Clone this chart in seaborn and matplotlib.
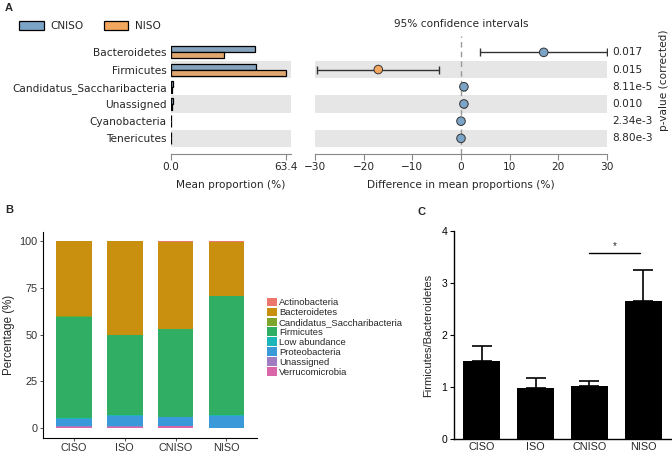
import numpy as np
import pandas as pd
import matplotlib
matplotlib.use("Agg")
import matplotlib.pyplot as plt
from matplotlib.patches import Patch
import seaborn as sns

# ---------------- data ----------------
# Panel A
phyla_a = ["Bacteroidetes", "Firmicutes", "Candidatus_Saccharibacteria",
           "Unassigned", "Cyanobacteria", "Tenericutes"]
cniso_prop = [46.5, 46.8, 0.9, 1.2, 0.2, 0.2]
niso_prop = [29.3, 63.4, 0.3, 0.5, 0.05, 0.05]
diff_mean = [17.0, -17.0, 0.6, 0.6, 0.0, 0.0]
ci_low = [4.0, -29.5, 0.4, 0.4, -0.1, -0.1]
ci_high = [30.0, -4.5, 0.8, 0.8, 0.1, 0.1]
p_values = ["0.017", "0.015", "8.11e-5", "0.010", "2.34e-3", "8.80e-3"]
groups_a = ["CNISO", "NISO"]
max_prop_tick = 63.4

# Panel B (bottom to top stacking order)
groups_b = ["CISO", "ISO", "CNISO", "NISO"]
verrucomicrobia = [0.8, 0.8, 1.0, 0.3]
unassigned = [0.3, 0.3, 0.3, 0.1]
proteobacteria = [4.1, 5.7, 4.6, 6.4]
low_abundance = [0.1, 0.1, 0.1, 0.1]
firmicutes = [54.3, 42.9, 46.9, 63.7]
candidatus = [0.2, 0.2, 0.3, 0.1]
bacteroidetes = [39.8, 49.8, 46.2, 28.8]
actinobacteria = [0.4, 0.2, 0.6, 0.5]
legend_b = ["Actinobacteria", "Bacteroidetes", "Candidatus_Saccharibacteria",
            "Firmicutes", "Low abundance", "Proteobacteria", "Unassigned",
            "Verrucomicrobia"]

# Panel C
groups_c = ["CISO", "ISO", "CNISO", "NISO"]
fb_ratio = [1.50, 0.98, 1.03, 2.66]
fb_err = [0.30, 0.19, 0.09, 0.60]

# ---------------- style ----------------
sns.set_theme(style="white")
plt.rcParams["font.family"] = ["DejaVu Sans"]
W, H = 672, 454
fig = plt.figure(figsize=(W / 100, H / 100), dpi=100)


def rect(x0, y0, x1, y1):
    return [x0 / W, 1 - y1 / H, (x1 - x0) / W, (y1 - y0) / H]


c_blue = "#7BA4C7"
c_orange = "#F3A65E"
band = "#E6E6E6"
fsA = 7.6

# ---------------- Panel A left ----------------
axL = fig.add_axes(rect(171, 36, 291, 153.5))
dfA = pd.DataFrame({
    "phylum": phyla_a * 2,
    "value": cniso_prop + niso_prop,
    "group": [groups_a[0]] * 6 + [groups_a[1]] * 6,
})
for i in (1, 3, 5):
    axL.axhspan(i - 0.5, i + 0.5, color=band, lw=0, zorder=0)
sns.barplot(data=dfA, y="phylum", x="value", hue="group", orient="h",
            palette=[c_blue, c_orange], edgecolor="black", linewidth=0.9,
            width=0.7, errorbar=None, legend=False, ax=axL, zorder=2)
axL.set_xlim(0, 66.4)
axL.set_ylim(5.88, -0.95)
axL.set_xticks([0, max_prop_tick])
axL.set_xticklabels(["0.0", "63.4"], fontsize=fsA)
axL.tick_params(axis="y", length=0, pad=3, labelsize=fsA)
axL.tick_params(axis="x", length=4, width=0.8, color="#888888", pad=2,
                bottom=True, direction="out")
axL.set_ylabel("")
axL.set_xlabel("Mean proportion (%)", fontsize=fsA, labelpad=6)
for s in ["top", "left", "right"]:
    axL.spines[s].set_visible(False)
axL.spines["bottom"].set_color("#888888")
axL.spines["bottom"].set_linewidth(0.8)
axL.set_facecolor("none")

# ---------------- Panel A right ----------------
axR = fig.add_axes(rect(315, 36, 607, 153.5))
for i in (1, 3, 5):
    axR.axhspan(i - 0.5, i + 0.5, color=band, lw=0, zorder=0)
axR.axvline(0, color="#999999", ls=(0, (4, 3)), lw=1.0, zorder=1)
ypos = np.arange(len(phyla_a))
axR.errorbar(diff_mean, ypos,
             xerr=[np.array(diff_mean) - np.array(ci_low),
                   np.array(ci_high) - np.array(diff_mean)],
             fmt="none", ecolor="#333333", elinewidth=1.0, capsize=3,
             capthick=1.0, zorder=2)
dfR = pd.DataFrame({"diff": diff_mean, "row": ypos,
                    "col": ["CNISO" if d >= 0 else "NISO" for d in diff_mean]})
sns.scatterplot(data=dfR, x="diff", y="row", hue="col",
                palette={"CNISO": c_blue, "NISO": c_orange}, s=38,
                edgecolor="#333333", linewidth=0.7, legend=False, ax=axR,
                zorder=3)
axR.set_xlim(-30, 30)
axR.set_ylim(5.88, -0.95)
axR.set_yticks([])
axR.set_ylabel("")
axR.set_xticks([-30, -20, -10, 0, 10, 20, 30])
axR.tick_params(axis="x", length=4, width=0.8, color="#888888", pad=2,
                bottom=True, direction="out", labelsize=fsA)
axR.set_xlabel("Difference in mean proportions (%)", fontsize=fsA, labelpad=6)
for s in ["top", "left", "right"]:
    axR.spines[s].set_visible(False)
axR.spines["bottom"].set_color("#888888")
axR.spines["bottom"].set_linewidth(0.8)
axR.set_facecolor("none")
for i, p in enumerate(p_values):
    axR.text(1.017, i, p, transform=axR.get_yaxis_transform(),
             va="center", ha="left", fontsize=fsA)
fig.text(664 / W, 1 - 80 / H, "p-value (corrected)", rotation=90,
         ha="center", va="center", fontsize=fsA)
fig.text(461 / W, 1 - 24 / H, "95% confidence intervals", ha="center",
         va="center", fontsize=fsA)

fig.legend(handles=[Patch(facecolor=c_blue, edgecolor="black", lw=0.9),
                    Patch(facecolor=c_orange, edgecolor="black", lw=0.9)],
           labels=groups_a, loc="center left",
           bbox_to_anchor=(12 / W, 1 - 26 / H), ncol=2, frameon=False,
           fontsize=fsA, handlelength=2.3, handleheight=0.85,
           handletextpad=0.65, columnspacing=1.9, borderpad=0.2)

# ---------------- Panel B ----------------
arial = ["Liberation Sans", "DejaVu Sans"]
axB = fig.add_axes(rect(43.3, 231.7, 257, 438.3))
layers = [verrucomicrobia, unassigned, proteobacteria, low_abundance,
          firmicutes, candidatus, bacteroidetes, actinobacteria]
layer_names = ["Verrucomicrobia", "Unassigned", "Proteobacteria",
               "Low abundance", "Firmicutes", "Candidatus_Saccharibacteria",
               "Bacteroidetes", "Actinobacteria"]
colors_b = {
    "Actinobacteria": "#EC776E",
    "Bacteroidetes": "#C98F0E",
    "Candidatus_Saccharibacteria": "#7DA52B",
    "Firmicutes": "#30AF64",
    "Low abundance": "#1DB5B8",
    "Proteobacteria": "#3A99D8",
    "Unassigned": "#A07CC1",
    "Verrucomicrobia": "#D866A8",
}
cum = np.cumsum(np.array(layers), axis=0)
for k in range(len(layers) - 1, -1, -1):
    sns.barplot(x=groups_b, y=cum[k], order=groups_b,
                color=colors_b[layer_names[k]], width=0.7, saturation=1,
                errorbar=None, linewidth=0, ax=axB)
axB.set_xlim(-0.6, 3.6)
axB.set_ylim(-5.3, 104.8)
axB.set_yticks([0, 25, 50, 75, 100])
for lab in axB.get_xticklabels() + axB.get_yticklabels():
    lab.set_family(arial)
axB.tick_params(axis="both", labelsize=7.8, colors="#333333", length=2,
                width=0.6, left=True, bottom=True, pad=2)
axB.tick_params(axis="x", pad=1.5)
axB.set_ylabel("Percentage (%)", fontsize=8.3, family=arial, labelpad=3)
axB.set_xlabel("")
for s in ["top", "right"]:
    axB.spines[s].set_visible(False)
for s in ["left", "bottom"]:
    axB.spines[s].set_color("black")
    axB.spines[s].set_linewidth(0.8)

fig.legend(handles=[Patch(facecolor=colors_b[n], edgecolor="none")
                    for n in legend_b],
           labels=legend_b, loc="upper left",
           bbox_to_anchor=(261 / W, 1 - 292 / H), frameon=False,
           prop={"family": arial, "size": 6.8}, handlelength=1.05,
           handleheight=1.0, labelspacing=0.05, handletextpad=0.25,
           borderpad=0.1)

# ---------------- Panel C ----------------
axC = fig.add_axes(rect(454, 231, 671, 439.3))
sns.barplot(x=groups_c, y=fb_ratio, order=groups_c, color="black",
            saturation=1, width=0.69, errorbar=None, linewidth=0, ax=axC)
axC.errorbar(np.arange(len(groups_c)), fb_ratio,
             yerr=[np.zeros(len(fb_err)), fb_err], fmt="none",
             ecolor="black", elinewidth=1.2, capsize=7, capthick=1.2)
axC.set_xlim(-0.52, 3.52)
axC.set_ylim(0, 4)
axC.set_yticks([0, 1, 2, 3, 4])
for lab in axC.get_xticklabels() + axC.get_yticklabels():
    lab.set_family(arial)
axC.tick_params(axis="y", labelsize=7.5, length=3, width=0.8, left=True,
                pad=2, colors="black")
axC.tick_params(axis="x", labelsize=7.8, length=0, pad=2)
axC.set_ylabel("Firmicutes/Bacteroidetes", fontsize=8, family=arial,
               labelpad=6)
for s in ["top", "right"]:
    axC.spines[s].set_visible(False)
for s in ["left", "bottom"]:
    axC.spines[s].set_color("black")
    axC.spines[s].set_linewidth(1.0)
axC.plot([2.0, 2.95], [3.57, 3.57], color="black", lw=1.0)
axC.text(2.48, 3.62, "*", ha="center", va="bottom", fontsize=7,
         family=arial)

# ---------------- panel letters ----------------
for txt, x, y in [("A", 5, 8), ("B", 5, 210), ("C", 417, 212)]:
    fig.text(x / W, 1 - y / H, txt, fontsize=8, fontweight="bold",
             family=arial, ha="left", va="center")

fig.savefig("out.png", dpi=100)
